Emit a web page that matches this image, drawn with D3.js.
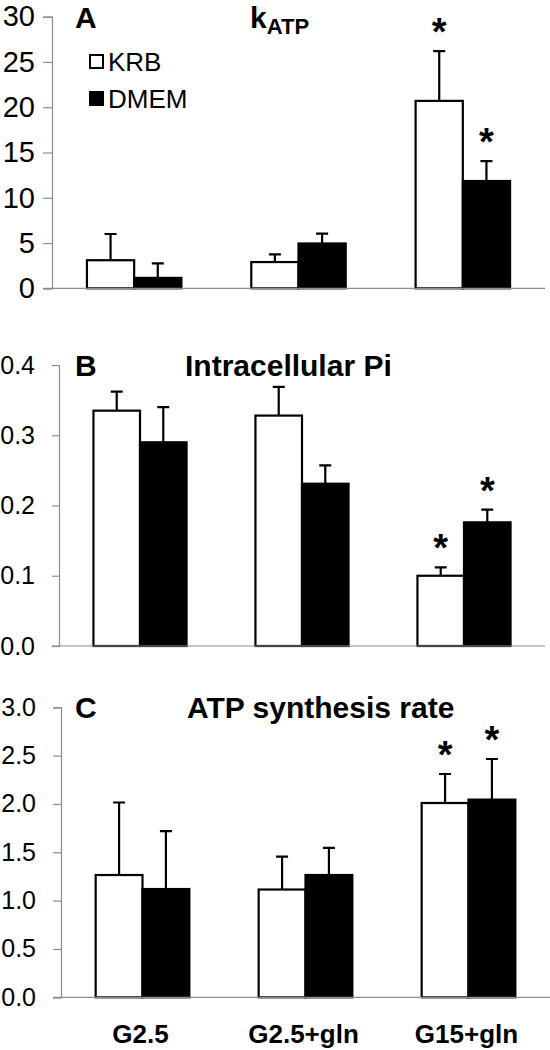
<!DOCTYPE html>
<html><head><meta charset="utf-8">
<script src="https://cdn.jsdelivr.net/npm/d3@7"></script>
<style>body{margin:0;background:#fff}svg{display:block}</style>
</head><body><svg id="c" width="550" height="1050" font-family="Arial, 'Liberation Sans', sans-serif"></svg>
<script>
const categories = ["G2.5", "G2.5+gln", "G15+gln"];
const series = ["KRB", "DMEM"];
// panel A: kATP
const kAtpKRB = [3.1, 2.9, 20.7];
const kAtpKRBErr = [2.9, 0.85, 5.5];
const kAtpDMEM = [1.15, 4.95, 11.85];
const kAtpDMEMErr = [1.6, 1.1, 2.2];
const kAtpStars = [[false,false],[false,false],[true,true]];
const kAtpTicks = [0, 5, 10, 15, 20, 25, 30];
// panel B: intracellular Pi
const piKRB = [0.335, 0.328, 0.100];
const piKRBErr = [0.027, 0.041, 0.012];
const piDMEM = [0.290, 0.231, 0.176];
const piDMEMErr = [0.050, 0.026, 0.018];
const piStars = [[false,false],[false,false],[true,true]];
const piTicks = [0, 0.1, 0.2, 0.3, 0.4];
// panel C: ATP synthesis rate
const atpKRB = [1.265, 1.115, 2.01];
const atpKRBErr = [0.75, 0.34, 0.30];
const atpDMEM = [1.12, 1.265, 2.045];
const atpDMEMErr = [0.60, 0.28, 0.42];
const atpStars = [[false,false],[false,false],[true,true]];
const atpTicks = [0, 0.5, 1.0, 1.5, 2.0, 2.5, 3.0];

const svg = d3.select("#c");

function panel(cfg) {
  const {vals, errs, stars, ticks, fmt, xr, yr, max, letter, title, titleX, showX, tickFont, tickLen, tickPad} = cfg;
  const g = svg.append("g");
  const x0 = d3.scaleBand().domain(categories).range(xr).padding(0);
  const x1 = d3.scaleBand().domain(series).range([0, x0.bandwidth()]).paddingInner(0).paddingOuter(0.74);
  const y = d3.scaleLinear().domain([0, max]).range(yr);
  const yAxis = d3.axisLeft(y).tickValues(ticks).tickFormat(fmt).tickSize(tickLen).tickPadding(tickPad);
  const ag = g.append("g").attr("transform", `translate(${xr[0]},0)`).call(yAxis);
  ag.attr("font-size", tickFont).attr("font-family", "Arial, 'Liberation Sans', sans-serif");
  ag.select(".domain").attr("stroke", "#8c8c8c").attr("stroke-width", 1.2);
  ag.selectAll(".tick line").attr("stroke", "#8c8c8c").attr("stroke-width", 1.2);
  ag.selectAll(".tick text").attr("fill", "#000");
  const rows = [];
  categories.forEach((c, i) => series.forEach((s, j) => rows.push({c, s, v: vals[j][i], e: errs[j][i], star: stars[i][j]})));
  // error bars
  g.selectAll(".err").data(rows).join("path")
    .attr("d", d => {
      const cx = x0(d.c) + x1(d.s) + x1.bandwidth() / 2;
      const top = y(d.v + d.e);
      return `M${cx},${y(d.v)}V${top}M${cx - 6},${top}H${cx + 6}`;
    })
    .attr("stroke", "#000").attr("stroke-width", 2.2).attr("fill", "none");
  // bars
  g.selectAll(".bar").data(rows).join("rect")
    .attr("x", d => x0(d.c) + x1(d.s))
    .attr("y", d => y(d.v))
    .attr("width", x1.bandwidth())
    .attr("height", d => y(0) - y(d.v))
    .attr("fill", d => d.s === "KRB" ? "#fff" : "#000")
    .attr("stroke", "#000").attr("stroke-width", 2.2);
  // baseline
  g.append("line").attr("x1", xr[0] - tickLen).attr("x2", xr[1]).attr("y1", y(0)).attr("y2", y(0))
    .attr("stroke", "#8c8c8c").attr("stroke-width", 1.2);
  // stars
  g.selectAll(".star").data(rows.filter(d => d.star)).join("text")
    .attr("x", d => x0(d.c) + x1(d.s) + x1.bandwidth() / 2)
    .attr("y", d => y(d.v + d.e) - 6)
    .attr("text-anchor", "middle").attr("font-size", 38).attr("font-weight", "bold").text("*");
  // titles
  g.append("text").attr("x", 75).attr("y", yr[1] + 11).attr("font-size", 30).attr("font-weight", "bold").text(letter);
  const t = g.append("text").attr("x", titleX).attr("y", yr[1] + 11).attr("font-size", 30).attr("font-weight", "bold");
  if (Array.isArray(title)) {
    t.append("tspan").text(title[0]);
    t.append("tspan").attr("font-size", 22).attr("dy", 6).text(title[1]);
  } else t.text(title);
  if (showX) {
    g.selectAll(".xl").data(categories).join("text")
      .attr("x", d => x0(d) + x0.bandwidth() / 2 - 2)
      .attr("y", 1043).attr("text-anchor", "middle")
      .attr("font-size", 26).attr("font-weight", "bold").text(d => d);
  }
  return g;
}

const gA = panel({vals: [kAtpKRB, kAtpDMEM], errs: [kAtpKRBErr, kAtpDMEMErr], stars: kAtpStars, ticks: kAtpTicks,
  fmt: d3.format("d"), xr: [52, 545], yr: [288.3, 16.7], max: 30, letter: "A", title: ["k", "ATP"], titleX: 250,
  tickFont: 29, tickLen: 9, tickPad: 8});
panel({vals: [piKRB, piDMEM], errs: [piKRBErr, piDMEMErr], stars: piStars, ticks: piTicks,
  fmt: d3.format(".1f"), xr: [59, 545], yr: [646, 365], max: 0.4, letter: "B", title: "Intracellular Pi", titleX: 185,
  tickFont: 25, tickLen: 7, tickPad: 17});
panel({vals: [atpKRB, atpDMEM], errs: [atpKRBErr, atpDMEMErr], stars: atpStars, ticks: atpTicks,
  fmt: d3.format(".1f"), xr: [61, 550], yr: [997.3, 707.3], max: 3, letter: "C", title: "ATP synthesis rate", titleX: 187, showX: true,
  tickFont: 25, tickLen: 8, tickPad: 17});

// legend
const leg = gA.append("g");
series.forEach((s, i) => {
  const yy = 55 + i * 37;
  leg.append("rect").attr("x", 90).attr("y", yy).attr("width", 13).attr("height", 13)
    .attr("fill", s === "KRB" ? "#fff" : "#000").attr("stroke", "#000").attr("stroke-width", 2);
  leg.append("text").attr("x", 108).attr("y", yy + 16).attr("font-size", 26).text(s);
});
</script></body></html>
